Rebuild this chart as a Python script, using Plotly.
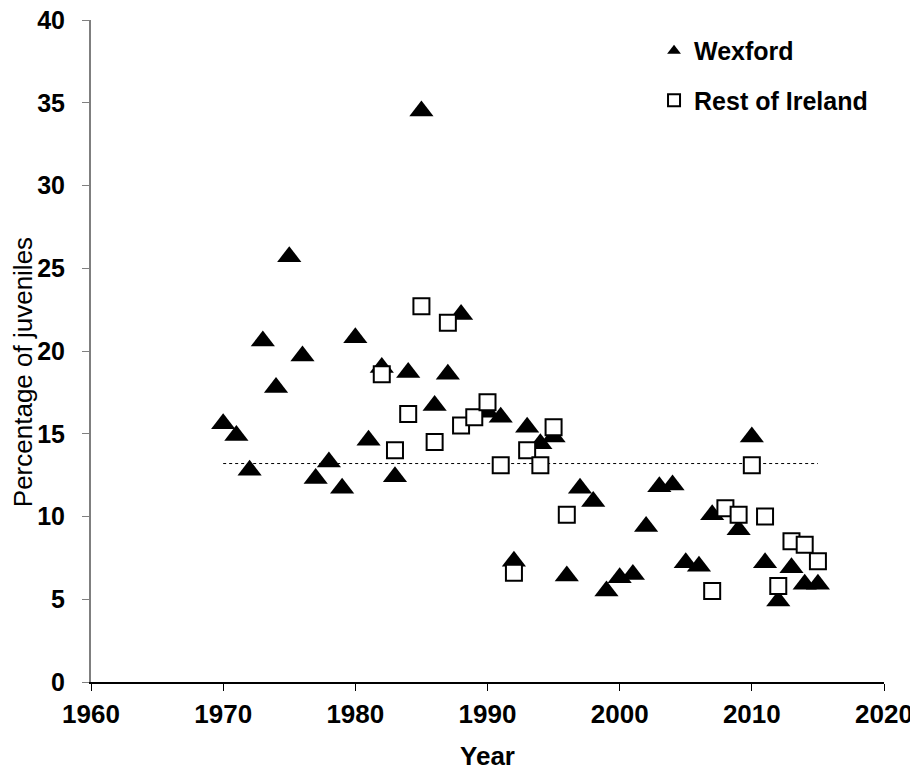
import plotly.graph_objects as go

# Wexford (filled triangles)
wex_years = [1970, 1971, 1972, 1973, 1974, 1975, 1976, 1977, 1978, 1979,
             1980, 1981, 1982, 1983, 1984, 1985, 1986, 1987, 1988, 1990,
             1991, 1992, 1993, 1994, 1995, 1996, 1997, 1998, 1999, 2000,
             2001, 2002, 2003, 2004, 2005, 2006, 2007, 2009, 2010, 2011,
             2012, 2013, 2014, 2015]
wex_pct = [15.6, 14.9, 12.8, 20.6, 17.8, 25.7, 19.7, 12.3, 13.3, 11.7,
           20.8, 14.6, 19.0, 12.4, 18.7, 34.5, 16.7, 18.6, 22.2, 16.3,
           16.0, 7.3, 15.4, 14.4, 14.8, 6.4, 11.7, 10.9, 5.5, 6.3,
           6.5, 9.4, 11.8, 11.9, 7.2, 7.0, 10.1, 9.2, 14.8, 7.2,
           4.9, 6.9, 5.9, 5.9]

# Rest of Ireland (open squares)
roi_years = [1982, 1983, 1984, 1985, 1986, 1987, 1988, 1989, 1990, 1991,
             1992, 1993, 1994, 1995, 1996, 2007, 2008, 2009, 2010, 2011,
             2012, 2013, 2014, 2015]
roi_pct = [18.6, 14.0, 16.2, 22.7, 14.5, 21.7, 15.5, 16.0, 16.9, 13.1,
           6.6, 14.0, 13.1, 15.4, 10.1, 5.5, 10.5, 10.1, 13.1, 10.0,
           5.8, 8.5, 8.3, 7.3]

# Mean reference line
mean_years = [1970, 2015]
mean_pct = [13.2, 13.2]

FONT = "Liberation Sans, Arial, sans-serif"

fig = go.Figure()
fig.add_trace(go.Scatter(
    x=mean_years, y=mean_pct, mode="lines",
    line=dict(color="black", width=1, dash="dot"),
    showlegend=False, hoverinfo="skip"))
fig.add_trace(go.Scatter(
    x=wex_years, y=wex_pct, mode="markers", name="Wexford",
    legendgroup="a",
    marker=dict(symbol="triangle-up", size=21, color="black",
                line=dict(color="black", width=0))))
fig.add_trace(go.Scatter(
    x=roi_years, y=roi_pct, mode="markers", name="Rest of Ireland",
    legendgroup="b",
    marker=dict(symbol="square", size=16, color="white",
                line=dict(color="black", width=2))))

# The page body has an 8px default margin, so the figure is 8px smaller.
fig.update_layout(
    width=910, height=763,
    paper_bgcolor="white", plot_bgcolor="white",
    margin=dict(l=83, r=34, t=12, b=89, autoexpand=False),
    font=dict(family=FONT, color="black"),
    legend=dict(x=0.71, y=0.988, xanchor="left", yanchor="top",
                bgcolor="rgba(0,0,0,0)", tracegroupgap=14,
                font=dict(family=FONT, size=25, weight="bold"),
                itemsizing="constant"),
    xaxis=dict(range=[1960, 2020], dtick=10, tick0=1960,
               showgrid=False, zeroline=False, automargin=False,
               showline=True, linecolor="black", linewidth=1.5,
               ticks="outside", ticklen=7, tickcolor="black",
               ticklabelstandoff=1, ticklabeloverflow="allow",
               tickfont=dict(family=FONT, size=26, weight="bold"),
               title=dict(text="Year", standoff=26,
                          font=dict(family=FONT, size=26, weight="bold"))),
    yaxis=dict(range=[0, 40], dtick=5, tick0=0,
               showgrid=False, zeroline=False, automargin=False,
               showline=True, linecolor="#7f7f7f", linewidth=2,
               ticks="outside", ticklen=7, tickcolor="#7f7f7f",
               ticklabelstandoff=12, ticklabeloverflow="allow",
               tickfont=dict(family=FONT, size=25, weight="bold")),
    annotations=[dict(text="Percentage of juveniles", textangle=-90,
                      xref="paper", yref="paper", x=0, y=0.468,
                      xanchor="center", yanchor="middle", xshift=-68,
                      showarrow=False,
                      font=dict(family=FONT, size=26, color="black"))],
)

fig.write_html("out.html")
